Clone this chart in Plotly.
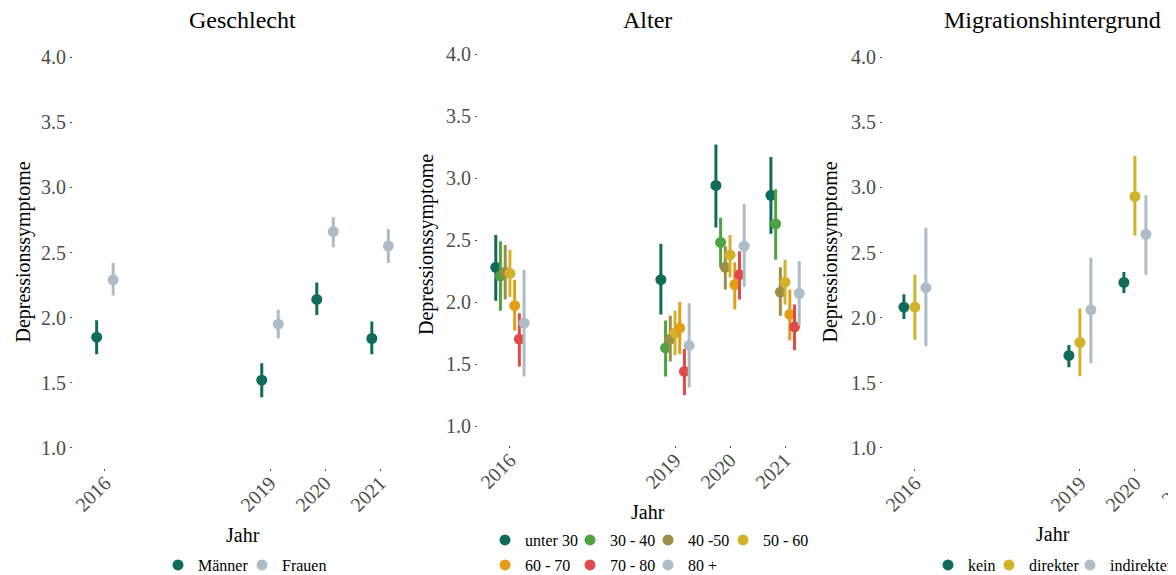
import plotly.graph_objects as go

# ---- data ---------------------------------------------------------------
YEARS = [2016, 2019, 2020, 2021]
YEAR_LABELS = ["2016", "2019", "2020", "2021"]

# Geschlecht
SEX_NAMES = ["Männer", "Frauen"]
SEX_MEAN = [[1.85, 1.52, 2.14, 1.84], [2.29, 1.95, 2.66, 2.55]]
SEX_LO = [[1.72, 1.39, 2.02, 1.72], [2.17, 1.84, 2.54, 2.42]]
SEX_HI = [[1.98, 1.65, 2.27, 1.97], [2.42, 2.06, 2.77, 2.68]]

# Alter
AGE_NAMES = ["unter 30", "30 - 40", "40 -50", "50 - 60", "60 - 70", "70 - 80", "80 +"]
AGE_MEAN = [
    [2.28, 2.18, 2.94, 2.86],
    [2.21, 1.63, 2.48, 2.63],
    [2.24, 1.70, 2.28, 2.08],
    [2.23, 1.75, 2.38, 2.16],
    [1.97, 1.79, 2.14, 1.90],
    [1.70, 1.44, 2.22, 1.80],
    [1.83, 1.65, 2.45, 2.07],
]
AGE_LO = [
    [2.01, 1.90, 2.60, 2.55],
    [1.93, 1.40, 2.28, 2.34],
    [2.02, 1.52, 2.10, 1.89],
    [2.04, 1.57, 2.20, 1.98],
    [1.77, 1.58, 1.94, 1.69],
    [1.48, 1.25, 2.02, 1.61],
    [1.40, 1.31, 2.12, 1.81],
]
AGE_HI = [
    [2.54, 2.47, 3.27, 3.17],
    [2.49, 1.85, 2.68, 2.91],
    [2.46, 1.89, 2.45, 2.28],
    [2.42, 1.93, 2.54, 2.34],
    [2.18, 2.00, 2.32, 2.10],
    [1.91, 1.62, 2.41, 1.98],
    [2.26, 1.99, 2.79, 2.33],
]

# Migrationshintergrund (2021 only partly visible in the source)
MIG_NAMES = ["kein", "direkter", "indirekter"]
MIG_MEAN = [[2.08, 1.71, 2.27, 2.10], [2.08, 1.81, 2.93, None], [2.23, 2.06, 2.64, None]]
MIG_LO = [[1.99, 1.62, 2.19, 2.02], [1.83, 1.55, 2.63, None], [1.78, 1.65, 2.33, None]]
MIG_HI = [[2.18, 1.79, 2.35, 2.18], [2.33, 2.07, 3.24, None], [2.69, 2.46, 2.94, None]]

# ---- styling ------------------------------------------------------------
SEX_COLORS = ["#106b5b", "#adbcc6"]
AGE_COLORS = ["#106b5b", "#4fa343", "#9c8e47", "#d3b22b", "#e39e18", "#e04a48", "#adbcc6"]
MIG_COLORS = ["#106b5b", "#d3b22b", "#adbcc6"]

# legend key positions (window px: dot centre x, row centre y), ggplot-like grid
SEX_KEYS = [(178, 565), (262, 565)]
AGE_KEYS = [(505, 540), (590, 540), (668, 540), (743, 540),
            (505, 565), (590, 565), (668, 565)]
MIG_KEYS = [(948, 565), (1009, 565), (1090, 565)]

FONT = "Liberation Serif, Times New Roman, serif"
W, H = 1176, 575
PAGE_OFFSET = 8  # default body margin of the html page
DODGE = 0.6


def fx(px):
    # window pixel -> paper fraction
    return (px - PAGE_OFFSET) / W


def fy(px):
    return 1 - (px - PAGE_OFFSET) / H


legend_layouts = {}


def add_groups(fig, names, means, los, his, colors, keys, xa, ya):
    n = len(names)
    for i in range(n):
        offset = (i - (n - 1) / 2) * DODGE / n
        x = [yr + offset for yr in YEARS]
        m = means[i]
        plus = [None if v is None else h - v for v, h in zip(m, his[i])]
        minus = [None if v is None else v - l for v, l in zip(m, los[i])]
        # each key gets its own little legend so the grid matches the original
        idx = len(legend_layouts) + 1
        leg = "legend" if idx == 1 else f"legend{idx}"
        legend_layouts[leg] = dict(
            x=fx(keys[i][0] - 20), y=fy(keys[i][1]),
            orientation="h", xanchor="left", yanchor="middle",
            font=dict(family=FONT, size=16, color="black"),
            bgcolor="rgba(0,0,0,0)",
        )
        fig.add_trace(go.Scatter(
            x=x, y=m, mode="markers", name=names[i],
            marker=dict(color=colors[i], size=11),
            error_y=dict(type="data", symmetric=False, array=plus, arrayminus=minus,
                         color=colors[i], thickness=3, width=0),
            xaxis=xa, yaxis=ya, legend=leg, showlegend=True, hoverinfo="x+y+name",
        ))


fig = go.Figure()
add_groups(fig, SEX_NAMES, SEX_MEAN, SEX_LO, SEX_HI, SEX_COLORS, SEX_KEYS, "x", "y")
add_groups(fig, AGE_NAMES, AGE_MEAN, AGE_LO, AGE_HI, AGE_COLORS, AGE_KEYS, "x2", "y2")
add_groups(fig, MIG_NAMES, MIG_MEAN, MIG_LO, MIG_HI, MIG_COLORS, MIG_KEYS, "x3", "y3")

x_common = dict(
    tickvals=YEARS, ticktext=YEAR_LABELS, tickangle=-45,
    tickfont=dict(family=FONT, size=20, color="#4d4d4d"),
    ticks="outside", ticklen=2, tickcolor="#4d4d4d", ticklabelstandoff=-7,
    showgrid=False, zeroline=False, showline=False, automargin=False,
)
y_common = dict(
    range=[0.85, 4.15], tickvals=[1, 1.5, 2, 2.5, 3, 3.5, 4], tickformat=".1f",
    tickfont=dict(family=FONT, size=20, color="#4d4d4d"),
    ticks="outside", ticklen=2, tickcolor="#4d4d4d",
    showgrid=False, zeroline=False, showline=False, automargin=False,
)

fig.update_layout(
    width=W, height=H,
    margin=dict(l=0, r=0, t=0, b=0, autoexpand=False),
    template="none",
    showlegend=True,
    paper_bgcolor="white", plot_bgcolor="white",
    font=dict(family=FONT, color="black"),
    xaxis=dict(domain=[fx(73), fx(412)], range=[2015.42, 2021.58], anchor="y", **x_common),
    xaxis2=dict(domain=[fx(478), fx(817)], range=[2015.42, 2021.58], anchor="y2", **x_common),
    xaxis3=dict(domain=[fx(883), fx(1176)], range=[2015.42, 2015.42 + 293 / 55], anchor="y3", **x_common),
    yaxis=dict(domain=[fy(467.5), fy(37.5)], anchor="x", **y_common),
    yaxis2=dict(domain=[fy(444.6), fy(35.4)], anchor="x2", **y_common),
    yaxis3=dict(domain=[fy(467.5), fy(37.5)], anchor="x3", **y_common),
    **legend_layouts,
)

# panel titles and axis titles
titles = [("Geschlecht", 242.5), ("Alter", 647.5), ("Migrationshintergrund", 1052.5)]
for text, cx in titles:
    fig.add_annotation(text=text, x=fx(cx), y=fy(20), xref="paper", yref="paper",
                       showarrow=False, xanchor="center", yanchor="middle",
                       font=dict(family=FONT, size=24, color="black"))

for cx, cy in [(23, 252.5), (426, 245), (830, 252.5)]:
    fig.add_annotation(text="Depressionssymptome", x=fx(cx), y=fy(cy), xref="paper", yref="paper",
                       showarrow=False, textangle=-90, xanchor="center", yanchor="middle",
                       font=dict(family=FONT, size=20, color="black"))

for cx, cy in [(242.5, 535), (647.5, 512), (1052.5, 534)]:
    fig.add_annotation(text="Jahr", x=fx(cx), y=fy(cy), xref="paper", yref="paper",
                       showarrow=False, xanchor="center", yanchor="middle",
                       font=dict(family=FONT, size=20, color="black"))

# the 2021 label of the last panel runs off the right edge of the source image
fig.add_annotation(text="2021", x=fx(1179), y=fy(488), xref="paper", yref="paper",
                   showarrow=False, textangle=-45, xanchor="center", yanchor="middle",
                   font=dict(family=FONT, size=20, color="#4d4d4d"))

fig.write_html("out.html")
